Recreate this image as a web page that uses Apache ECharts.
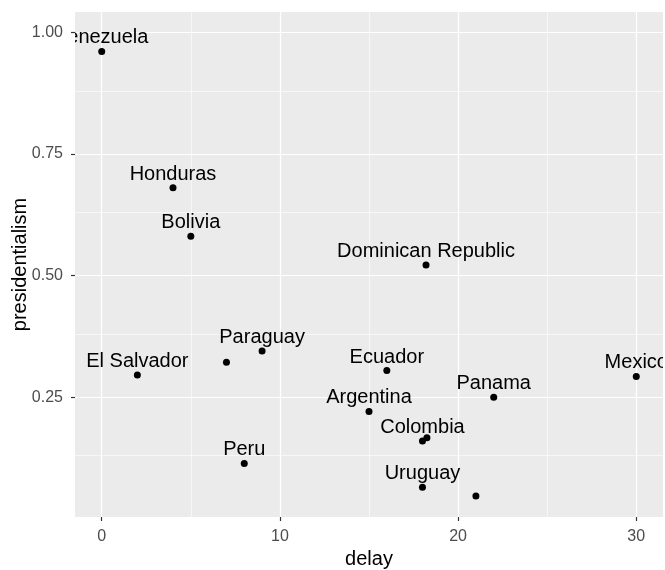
<!DOCTYPE html>
<html>
<head>
<meta charset="utf-8">
<script src="https://cdn.jsdelivr.net/npm/echarts@6/dist/echarts.min.js"></script>
<style>
  html, body { margin: 0; padding: 0; background: #fff; }
  #chart { width: 665px; height: 570px; }
</style>
</head>
<body>
<div id="chart"></div>
<script>
// data (empty name = point without a visible label)
const countries = ['Venezuela', 'Honduras', 'Bolivia', 'Dominican Republic', 'Paraguay', '',
  'El Salvador', 'Peru', 'Ecuador', 'Argentina', 'Colombia', '', 'Panama', 'Mexico', 'Uruguay', '']
const delay = [0, 4, 5, 18.2, 9, 7, 2, 8, 16, 15, 18, 18.25, 22, 30, 18, 21]
const presidentialism = [0.961, 0.681, 0.581, 0.522, 0.345, 0.322, 0.296, 0.114,
  0.305, 0.221, 0.160, 0.167, 0.25, 0.293, 0.065, 0.047]

const xTicks = [0, 10, 20, 30]
const xMinor = [5, 15, 25]
const yTicks = [0.25, 0.5, 0.75, 1]
const yMinor = [0.125, 0.375, 0.625, 0.875]
const xRange = [-1.5, 31.5]
const yRange = [0.004, 1.042]

const font = "'Liberation Sans', Arial, sans-serif"
const chart = echarts.init(document.getElementById('chart'), null, { renderer: 'canvas' })

const points = delay.map((d, i) => [d, presidentialism[i]])

const gridLines = [
  ...xMinor.map(v => ({ xAxis: v, lineStyle: { width: 0.6 } })),
  ...yMinor.map(v => ({ yAxis: v, lineStyle: { width: 0.6 } })),
  ...xTicks.map(v => ({ xAxis: v, lineStyle: { width: 1.2 } })),
  ...yTicks.map(v => ({ yAxis: v, lineStyle: { width: 1.2 } }))
]

const axisCommon = {
  type: 'value',
  nameLocation: 'middle',
  nameMoveOverlap: false,
  nameTextStyle: { color: '#000', fontSize: 20, fontFamily: font },
  axisLine: { show: true, onZero: false, lineStyle: { color: 'rgba(0,0,0,0)' } },
  splitLine: { show: false }
}

chart.setOption({
  animation: false,
  grid: {
    left: 75, right: 2, top: 12, bottom: 53,
    containLabel: false,
    outerBoundsMode: 'none',
    show: true, backgroundColor: '#EBEBEB', borderWidth: 0
  },
  xAxis: {
    ...axisCommon,
    min: xRange[0], max: xRange[1],
    name: 'delay',
    nameGap: 32,
    axisTick: { show: true, customValues: xTicks, length: 4, lineStyle: { color: '#333', width: 1.2 } },
    axisLabel: { customValues: xTicks, margin: 12, color: '#4D4D4D', fontSize: 16, fontFamily: font }
  },
  yAxis: {
    ...axisCommon,
    min: yRange[0], max: yRange[1],
    name: 'presidentialism',
    nameGap: 45,
    axisTick: { show: true, customValues: yTicks, length: 4, lineStyle: { color: '#333', width: 1.2 } },
    axisLabel: {
      customValues: yTicks, margin: 12, color: '#4D4D4D', fontSize: 16, fontFamily: font,
      formatter: v => v.toFixed(2)
    }
  },
  series: [
    {
      // panel grid lines
      type: 'scatter',
      data: [],
      z: 1,
      silent: true,
      markLine: {
        z: 1,
        silent: true,
        symbol: ['none', 'none'],
        label: { show: false },
        lineStyle: { color: '#fff', type: 'solid' },
        emphasis: { disabled: true },
        data: gridLines
      }
    },
    {
      type: 'scatter',
      z: 3,
      clip: true,
      symbolSize: 7,
      itemStyle: { color: '#000', opacity: 1 },
      data: points
    },
    {
      // country labels, clipped to the panel like geom_text
      type: 'custom',
      z: 4,
      clip: true,
      silent: true,
      data: points,
      renderItem: (params, api) => {
        const name = countries[params.dataIndex]
        if (!name) return null
        const p = api.coord([api.value(0), api.value(1)])
        return {
          type: 'text',
          x: p[0],
          y: p[1] - 13.5,
          style: {
            text: name,
            fill: '#000',
            font: '20px ' + font,
            align: 'center',
            verticalAlign: 'middle'
          }
        }
      }
    }
  ]
})
</script>
</body>
</html>
